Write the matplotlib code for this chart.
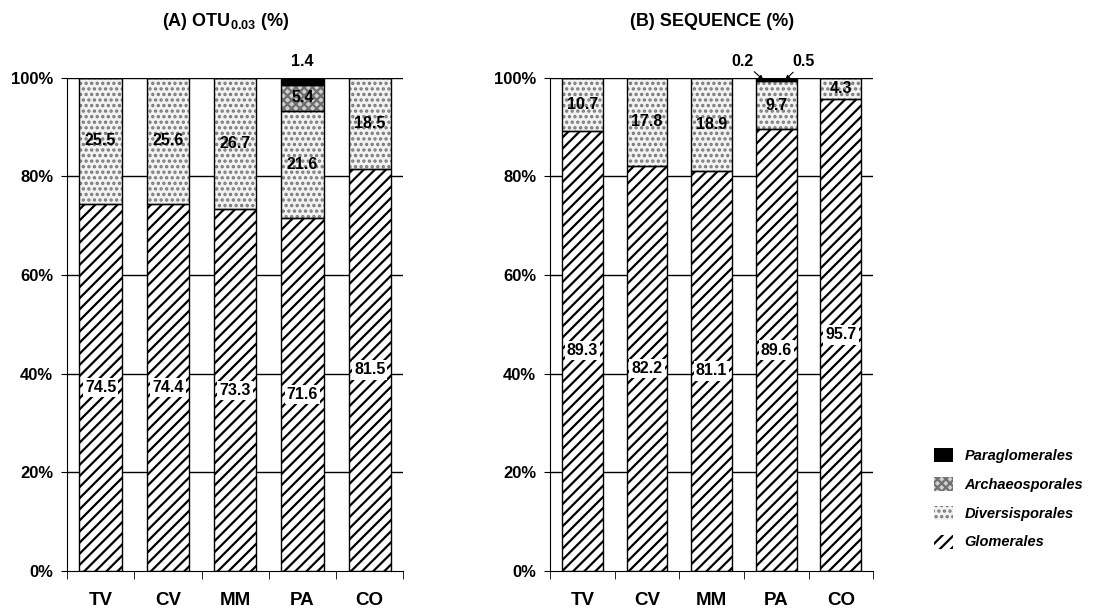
import numpy as np
import matplotlib.pyplot as plt
from matplotlib.patches import Patch

plt.rcParams['font.family'] = ['Liberation Sans', 'DejaVu Sans']
plt.rcParams['mathtext.fontset'] = 'custom'
plt.rcParams['mathtext.rm'] = 'Liberation Sans'
plt.rcParams['mathtext.bf'] = 'Liberation Sans:bold'
plt.rcParams['hatch.linewidth'] = 1.6

# data
sites = ["TV", "CV", "MM", "PA", "CO"]
orders = ["Glomerales", "Diversisporales", "Archaeosporales", "Paraglomerales"]

otu_glom = [74.5, 74.4, 73.3, 71.6, 81.5]
otu_div = [25.5, 25.6, 26.7, 21.6, 18.5]
otu_arch = [0, 0, 0, 5.4, 0]
otu_para = [0, 0, 0, 1.4, 0]

seq_glom = [89.3, 82.2, 81.1, 89.6, 95.7]
seq_div = [10.7, 17.8, 18.9, 9.7, 4.3]
seq_arch = [0, 0, 0, 0.2, 0]
seq_para = [0, 0, 0, 0.5, 0]

# styles per order: face, hatch, hatch colour
styles = {
    "Glomerales": ("white", "///", "black"),
    "Diversisporales": ("#f2f2f2", "...", "#777777"),
    "Archaeosporales": ("#d0d0d0", "xxxx", "#707070"),
    "Paraglomerales": ("black", None, "black"),
}

fig = plt.figure(figsize=(10.99, 6.12), dpi=100)
axA = fig.add_axes([0.061, 0.067, 0.306, 0.806])
axB = fig.add_axes([0.5005, 0.067, 0.294, 0.806])

x = np.arange(len(sites))
width = 0.63


def stacked(ax, series, title, title_x):
    bottom = np.zeros(len(sites))
    for name, vals in zip(orders, series):
        vals = np.array(vals, dtype=float)
        face, hatch, hcol = styles[name]
        # hatch layer, then black outline on top
        ax.bar(x, vals, width, bottom=bottom, color=face, hatch=hatch,
               edgecolor=hcol, linewidth=0, zorder=2)
        ax.bar(x, vals, width, bottom=bottom, fill=False,
               edgecolor="black", linewidth=1.0, zorder=3)
        bottom += vals

    for yv in [20, 40, 60, 80, 100]:
        ax.axhline(yv, color="black", linewidth=1.0, zorder=1)

    ax.set_xlim(-0.5, 4.5)
    ax.set_ylim(0, 100)
    ax.set_yticks([0, 20, 40, 60, 80, 100])
    ax.set_yticklabels([f"{v}%" for v in [0, 20, 40, 60, 80, 100]],
                       fontsize=12, fontweight="bold")
    ax.set_xticks(x)
    ax.set_xticklabels(sites, fontsize=13.5, fontweight="bold")
    ax.set_xticks(np.arange(-0.5, 5, 1), minor=True)
    ax.tick_params(axis="x", which="major", length=0, pad=15)
    ax.tick_params(axis="x", which="minor", length=6, direction="out")
    ax.tick_params(axis="y", length=4, pad=6)
    ax.spines["top"].set_visible(False)
    ax.spines["right"].set_visible(False)
    ax.set_title(title, fontsize=13, fontweight="bold", pad=37, x=title_x)


stacked(axA, [otu_glom, otu_div, otu_arch, otu_para],
        "(A) OTU$_{\\mathbf{0.03}}$ (%)", 0.47)
stacked(axB, [seq_glom, seq_div, seq_arch, seq_para], "(B) SEQUENCE (%)", 0.5)

lab_kw = dict(ha="center", va="center", fontsize=11.5, fontweight="bold", zorder=5)
box = dict(facecolor="white", edgecolor="none", pad=1.5)

# glomerales labels with white box, diversisporales plain
for ax, glom, div in [(axA, otu_glom, otu_div), (axB, seq_glom, seq_div)]:
    for i in range(len(sites)):
        ax.text(x[i], glom[i] / 2, f"{glom[i]:.1f}", bbox=box, **lab_kw)
        ax.text(x[i], glom[i] + div[i] / 2, f"{div[i]:.1f}", **lab_kw)

# small groups in PA
pa = sites.index("PA")
axA.text(x[pa], otu_glom[pa] + otu_div[pa] + otu_arch[pa] / 2,
         f"{otu_arch[pa]:.1f}", **lab_kw)
axA.text(x[pa], 103.2, f"{otu_para[pa]:.1f}", **lab_kw)

arrow = dict(arrowstyle="-|>", color="black", lw=0.8, mutation_scale=6,
             shrinkA=0, shrinkB=0)
axB.annotate(f"{seq_arch[pa]:.1f}", xy=(x[pa] - 0.2, 99.6),
             xytext=(x[pa] - 0.52, 103.3), arrowprops=arrow,
             ha="center", va="center", fontsize=11.5, fontweight="bold",
             annotation_clip=False)
axB.annotate(f"{seq_para[pa]:.1f}", xy=(x[pa] + 0.14, 99.6),
             xytext=(x[pa] + 0.43, 103.2), arrowprops=arrow,
             ha="center", va="center", fontsize=11.5, fontweight="bold",
             annotation_clip=False)

# legend
handles = []
for name in orders[::-1]:
    face, hatch, hcol = styles[name]
    handles.append(Patch(facecolor=face, hatch=hatch, edgecolor=hcol,
                         linewidth=0, label=name))
fig.legend(handles=handles, loc="center left", bbox_to_anchor=(0.838, 0.185),
           frameon=False, prop=dict(size=10.5, style="italic", weight="bold"),
           handlelength=1.3, handleheight=1.1, labelspacing=0.95,
           handletextpad=0.8)

fig.savefig("out.png", dpi=100)
